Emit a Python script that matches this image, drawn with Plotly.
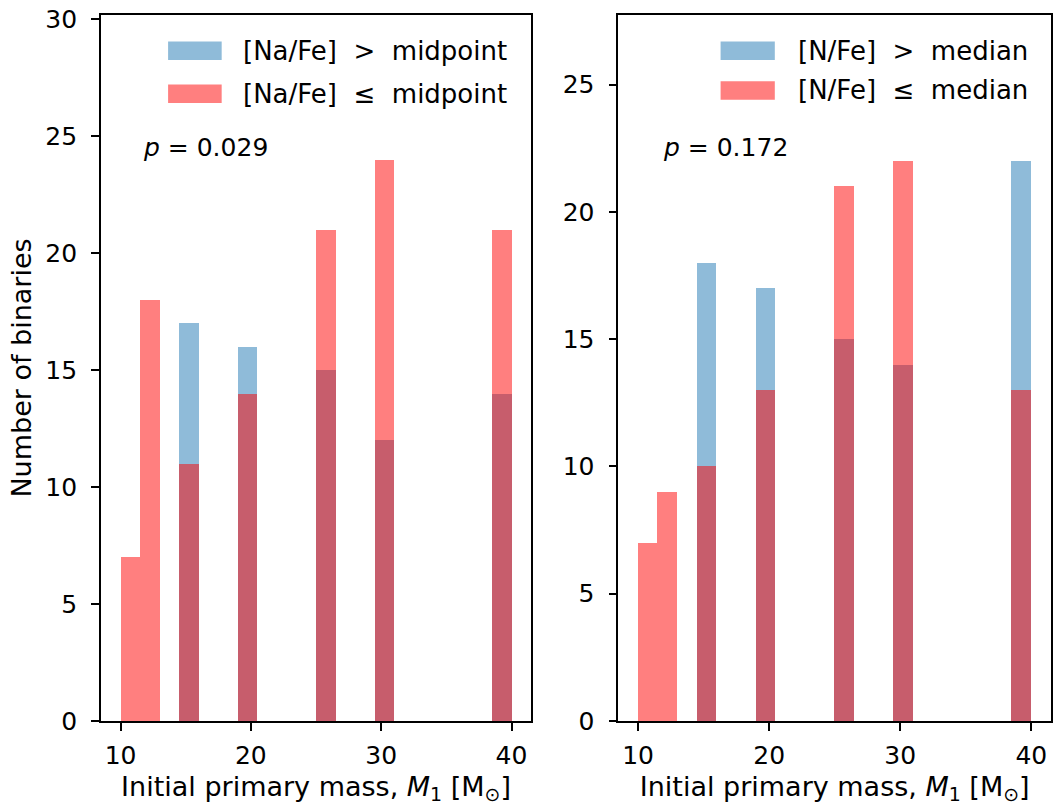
import plotly.graph_objects as go

# Histogram bins: 20 bins of width 1.5 between 10 and 40 Msun
bin_lo = 10.0
bin_width = 1.5
n_bins = 20
bin_centers = [bin_lo + bin_width * (i + 0.5) for i in range(n_bins)]

# Left panel: split by [Na/Fe]
na_high = [0, 0, 0, 17, 0, 0, 16, 0, 0, 0, 15, 0, 0, 12, 0, 0, 0, 0, 0, 14]
na_low = [7, 18, 0, 11, 0, 0, 14, 0, 0, 0, 21, 0, 0, 24, 0, 0, 0, 0, 0, 21]

# Right panel: split by [N/Fe]
n_high = [0, 0, 0, 18, 0, 0, 17, 0, 0, 0, 15, 0, 0, 14, 0, 0, 0, 0, 0, 22]
n_low = [7, 9, 0, 10, 0, 0, 13, 0, 0, 0, 21, 0, 0, 22, 0, 0, 0, 0, 0, 13]

labels_left = ["[Na/Fe]\u00a0\u00a0>\u00a0\u00a0midpoint", "[Na/Fe]\u00a0\u00a0\u2264\u00a0\u00a0midpoint"]
labels_right = ["[N/Fe]\u00a0\u00a0>\u00a0\u00a0median", "[N/Fe]\u00a0\u00a0\u2264\u00a0\u00a0median"]
p_left = "<i>p</i> = 0.029"
p_right = "<i>p</i> = 0.172"

x_ticks = [10, 20, 30, 40]
y_ticks_left = [0, 5, 10, 15, 20, 25, 30]
y_ticks_right = [0, 5, 10, 15, 20, 25]

BLUE = "rgba(31,119,180,0.5)"
RED = "rgba(255,0,0,0.5)"
FONT = "DejaVu Sans"
FS_TICK = 25
FS_TEXT = 26
FS_TITLE = 27

fig = go.Figure()

for xa, ya, high, low in [("x", "y", na_high, na_low), ("x2", "y2", n_high, n_low)]:
    fig.add_trace(go.Bar(x=bin_centers, y=high, width=bin_width, marker=dict(color=BLUE, line=dict(width=0)),
                         xaxis=xa, yaxis=ya, showlegend=False))
    fig.add_trace(go.Bar(x=bin_centers, y=low, width=bin_width, marker=dict(color=RED, line=dict(width=0)),
                         xaxis=xa, yaxis=ya, showlegend=False))

axis_common = dict(
    showline=True, mirror=True, linecolor="black", linewidth=1.7,
    ticks="outside", ticklen=8, tickwidth=1.7, tickcolor="black",
    showgrid=False, zeroline=False,
    tickfont=dict(family=FONT, size=FS_TICK, color="black"),
)

xtitle = "Initial primary mass, <i>M</i><sub>1</sub> [M<sub>\u2299</sub>]"
title_font = dict(family=FONT, size=FS_TITLE, color="black")

fig.update_layout(
    width=1058, height=808,
    margin=dict(l=101, r=5, t=12, b=87),
    plot_bgcolor="white", paper_bgcolor="white",
    barmode="overlay", bargap=0,
    font=dict(family=FONT, size=FS_TICK, color="black"),
    xaxis=dict(domain=[0, 0.4527], range=[8.5, 41.5], tickvals=x_ticks, ticklabelstandoff=3,
               title=dict(text=xtitle, font=title_font, standoff=8), **axis_common),
    yaxis=dict(domain=[0, 1], range=[0, 30.18], tickvals=y_ticks_left, ticklabelstandoff=9,
               title=dict(text="Number of binaries", font=title_font, standoff=6), **axis_common),
    xaxis2=dict(domain=[0.5446, 1], range=[8.5, 41.5], tickvals=x_ticks, anchor="y2", ticklabelstandoff=3,
                title=dict(text=xtitle, font=title_font, standoff=8), **axis_common),
    yaxis2=dict(domain=[0, 1], range=[0, 27.73], tickvals=y_ticks_right, anchor="x2", ticklabelstandoff=9,
                **axis_common),
)

# Legend patches and labels, drawn inside each panel
legend_specs = [
    ("x domain", "y domain", labels_left, (0.156, 0.2806), 0.325, [0.9495, 0.8885]),
    ("x2 domain", "y2 domain", labels_right, (0.2363, 0.3616), 0.411, [0.9495, 0.8932]),
]
half_h = 0.0131
for xr, yr, labels, (x0, x1), tx, rows in legend_specs:
    for color, label, yc in zip([BLUE, RED], labels, rows):
        fig.add_shape(type="rect", xref=xr, yref=yr, x0=x0, x1=x1, y0=yc - half_h, y1=yc + half_h,
                      fillcolor=color, line=dict(width=0))
        fig.add_annotation(xref=xr, yref=yr, x=tx, y=yc, text=label, showarrow=False,
                           xanchor="left", yanchor="middle", font=dict(family=FONT, size=FS_TEXT, color="black"))

for xr, yr, txt, px in [("x domain", "y domain", p_left, 0.094), ("x2 domain", "y2 domain", p_right, 0.098)]:
    fig.add_annotation(xref=xr, yref=yr, x=px, y=0.812, text=txt, showarrow=False,
                       xanchor="left", yanchor="middle", font=dict(family=FONT, size=FS_TICK, color="black"))

fig.write_html("out.html")
